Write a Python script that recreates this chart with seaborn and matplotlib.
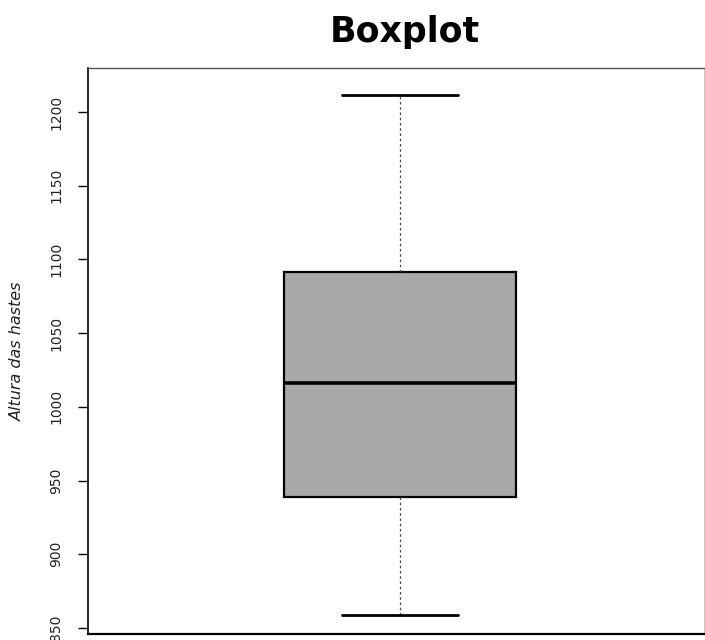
import numpy as np
import pandas as pd
import matplotlib
matplotlib.use("Agg")
import matplotlib.pyplot as plt
import seaborn as sns

# Five-number summary (Altura das hastes)
heights = [859, 939, 1016, 1091.5, 1211.5]
y_ticks = [850, 900, 950, 1000, 1050, 1100, 1150, 1200]
y_label = "Altura das hastes"
title = "Boxplot"

sns.set_theme(style="white")
plt.rcParams["font.family"] = ["DejaVu Sans"]

df = pd.DataFrame({"altura": heights})

fig = plt.figure(figsize=(7.05, 6.4), dpi=100)
ax = fig.add_axes([88 / 705, 1 - 634 / 640, 1 - 88 / 705 - 0.0015, (634 - 68) / 640])

sns.boxplot(
    data=df, y="altura", ax=ax, width=0.8, whis=np.inf,
    color="#a9a9a9", saturation=1,
    boxprops=dict(facecolor="#a9a9a9", edgecolor="black", linewidth=1.6),
    medianprops=dict(color="black", linewidth=2.6),
    whiskerprops=dict(color="#444444", linewidth=0.9, linestyle=(0, (2, 2.2))),
    capprops=dict(color="black", linewidth=2.0),
)

ax.set_xlim(-1.074, 1.046)
ax.set_ylim(845.9, 1229.9)
ax.set_yticks(y_ticks)
ax.set_yticklabels([str(t) for t in y_ticks], rotation=90, va="center", fontsize=10, color="#222222")
ax.set_xticks([])
ax.set_xlabel("")
ax.set_ylabel(y_label, fontsize=11.5, style="italic", color="#222222")
ax.yaxis.set_label_coords(-0.103, 0.5)
ax.tick_params(axis="y", which="major", left=True, length=7, width=1, color="black", pad=11)

for side in ["left", "bottom", "top", "right"]:
    ax.spines[side].set_visible(True)
    ax.spines[side].set_color("black")
ax.spines["left"].set_linewidth(1.2)
ax.spines["bottom"].set_linewidth(1.6)
ax.spines["top"].set_linewidth(1.0)
ax.spines["top"].set_color("#555555")
ax.spines["right"].set_linewidth(0.6)
ax.spines["right"].set_color("#bbbbbb")

fig.text(0.574, 1 - 32 / 640, title, ha="center", va="center", fontsize=25, fontweight="bold", color="black")

fig.savefig("out.png", dpi=100, facecolor="white")
